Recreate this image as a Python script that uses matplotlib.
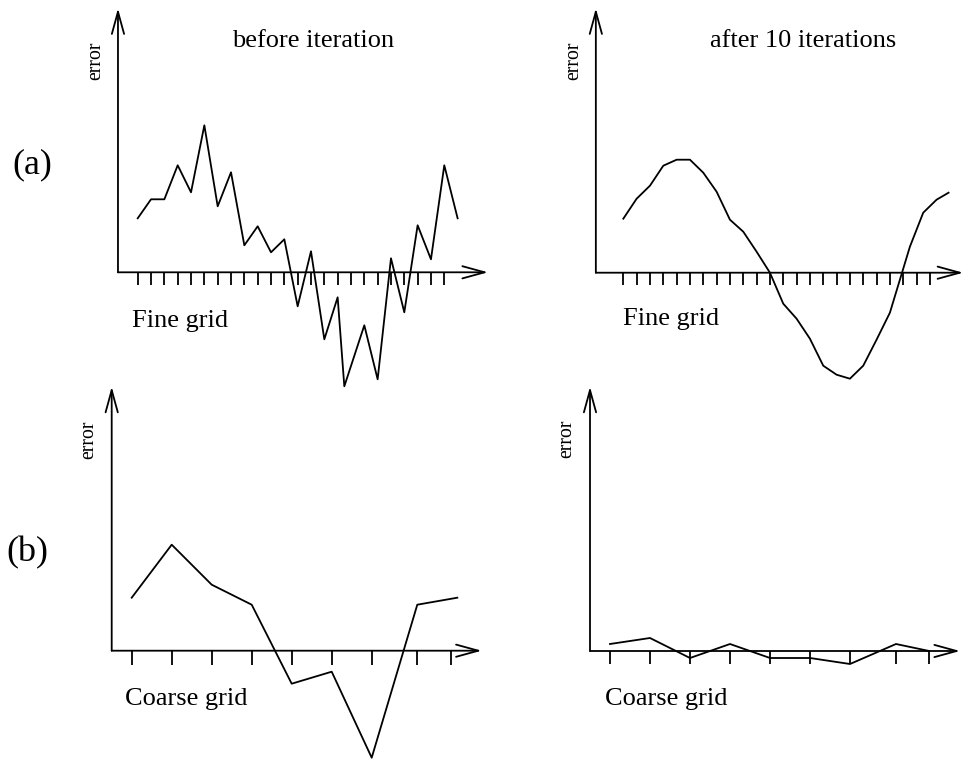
import numpy as np
import matplotlib
matplotlib.use('Agg')
import matplotlib.pyplot as plt

plt.rcParams['font.family'] = ['Liberation Serif', 'DejaVu Serif']

# fine grid, before iteration (error values, arbitrary units)
x_fine_before = [0, 1, 2, 3, 4, 5, 6, 7, 8, 9, 10, 11, 12, 13, 14, 15,
                 15.5, 17, 18, 19, 20, 21, 22, 23, 24]
e_fine_before = [54, 73, 73, 107, 80, 147, 66, 100, 27, 46, 20, 33, -34,
                 21, -67, -25, -114, -53, -107, 14, -40, 47, 13, 107, 54]

# fine grid, after 10 iterations
x_fine_after = [0, 1, 2, 3, 4, 5, 6, 7, 8, 9, 10, 11, 12, 13, 14, 15, 16,
                17, 18, 19, 20, 21.5, 22.5, 23.5, 24.4]
e_fine_after = [54, 74, 87, 107, 113, 113, 100, 81, 53, 41, 21, 0, -31,
                -46, -66, -93, -102, -106, -93, -67, -40, 26, 60, 73, 80]

# coarse grid, before iteration
x_coarse_before = [0, 1, 2, 3, 4, 5, 6, 7.14, 8.14]
e_coarse_before = [53, 106, 66, 46, -33, -21, -107, 46, 53]

# coarse grid, after 10 iterations
x_coarse_after = [0, 1, 2, 3, 4, 5, 6, 7.15, 7.98]
e_coarse_after = [7, 13, -7, 7, -7, -7, -13, 7, 0]

fine_ticks = np.arange(24)
coarse_ticks = [0, 1, 2, 3, 4, 5, 6, 7.14, 7.98]

LW = 1.3
W, H = 963, 760
fig = plt.figure(figsize=(W / 100, H / 100), dpi=100)


def panel(ox, oy, sx, xlim, ylim):
    # ox, oy: pixel position of the data origin, from the image top-left
    left = ox + xlim[0] * sx
    width = (xlim[1] - xlim[0]) * sx
    bottom = H - (oy - ylim[0])
    height = ylim[1] - ylim[0]
    ax = fig.add_axes([left / W, bottom / H, width / W, height / H])
    ax.set_xlim(xlim)
    ax.set_ylim(ylim)
    ax.axis('off')
    return ax


def draw_axes(ax, x0, xtip, ytip, ticks, tlen):
    arrow = dict(arrowstyle='->,head_length=0.8,head_width=0.22',
                 lw=LW, color='black', mutation_scale=20,
                 shrinkA=0, shrinkB=0)
    ax.annotate('', xy=(x0, ytip), xytext=(x0, 0), arrowprops=arrow,
                annotation_clip=False)
    ax.annotate('', xy=(xtip, 0), xytext=(x0, 0), arrowprops=arrow,
                annotation_clip=False)
    ax.vlines(ticks, -tlen, 0, color='black', lw=LW)


ax1 = panel(137.7, 272.3, 13.33, (-2.5, 27), (-130, 270))
draw_axes(ax1, -1.48, 26.28, 264, fine_ticks, 12.7)
ax1.plot(x_fine_before, e_fine_before, color='black', lw=LW)

ax2 = panel(623.3, 272.7, 13.33, (-2.5, 25.55), (-130, 270))
draw_axes(ax2, -2.06, 25.5, 264.4, fine_ticks, 12.7)
ax2.plot(x_fine_after, e_fine_after, color='black', lw=LW)

ax3 = panel(131.7, 650.7, 40, (-0.8, 8.9), (-130, 275))
draw_axes(ax3, -0.5, 8.75, 264, coarse_ticks, 14)
ax3.plot(x_coarse_before, e_coarse_before, color='black', lw=LW)

ax4 = panel(610, 651, 40, (-0.8, 8.8), (-130, 275))
draw_axes(ax4, -0.5, 8.75, 264.3, coarse_ticks, 13.3)
ax4.plot(x_coarse_after, e_coarse_after, color='black', lw=LW)


def label(x, y, s, size, **kw):
    fig.text(x / W, 1 - y / H, s, fontsize=size, **kw)


label(231.7, 46.7, 'before iteration', 19, va='baseline')
label(710, 46.7, 'after 10 iterations', 19, va='baseline')
label(132.3, 326.7, 'Fine grid', 19, va='baseline')
label(623.3, 325, 'Fine grid', 19, va='baseline')
label(125, 705, 'Coarse grid', 19, va='baseline')
label(605, 705, 'Coarse grid', 19, va='baseline')
label(12.7, 173.3, '(a)', 26, va='baseline')
label(6, 561.7, '(b)', 26, va='baseline')

for ex, ey in [(100, 60.8), (578.3, 60.8), (93.3, 439.7), (571, 439)]:
    label(ex, ey, 'error', 14.2, rotation=90, rotation_mode='anchor',
          ha='center', va='baseline')

fig.savefig('out.png', dpi=100)
